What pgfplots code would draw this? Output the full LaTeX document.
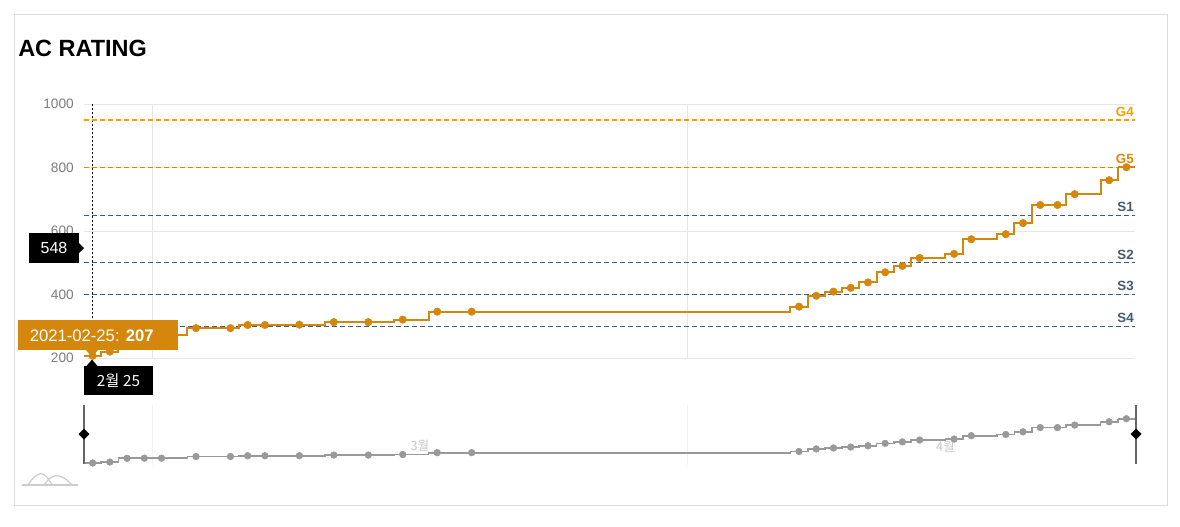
\documentclass[border=0pt]{standalone}
\usepackage{pgfplots}
\pgfplotsset{compat=1.18}
\usepackage{pgfplotstable}
\usepackage{fontspec}
\setmainfont{Liberation Sans}
\newfontfamily\kr{Noto Sans CJK KR}
\definecolor{acor}{RGB}{212,135,12}
\definecolor{gfour}{RGB}{245,160,0}
\definecolor{gfive}{RGB}{225,135,0}
\definecolor{slate}{RGB}{64,90,122}
\definecolor{gridc}{RGB}{230,230,230}
\definecolor{labc}{RGB}{125,125,125}
\definecolor{navc}{RGB}{153,153,153}
\definecolor{navlab}{RGB}{200,200,200}
\definecolor{framec}{RGB}{221,221,221}

% day index from 2021-02-25 00:00 (points at noon), rating
\pgfplotstableread{
d v
0.5 207
1.5 220
2.5 270
3.5 272
4.5 272
6.5 294
8.5 294
9.5 304
10.5 304
12.5 305
14.5 313
16.5 313
18.5 321
20.5 346
22.5 346
41.5 362
42.5 396
43.5 409
44.5 421
45.5 438
46.5 470
47.5 490
48.5 515
50.5 528
51.5 574
53.5 590
54.5 625
55.5 682
56.5 682
57.5 716
59.5 760
60.5 801
}\rating

\begin{document}
\begin{tikzpicture}
\path[use as bounding box, fill=white] (0pt,0pt) rectangle (885pt,394.5pt);

% ---------------- main chart ----------------
\begin{axis}[
  at={(63pt,126pt)}, anchor=south west, scale only axis,
  width=788.25pt, height=190.5pt,
  xmin=0, xmax=61, ymin=200, ymax=1000,
  axis line style={draw=none},
  xtick={4,35}, xticklabels={,},
  ytick={200,400,600,800,1000},
  xmajorgrids, ymajorgrids,
  major grid style={gridc, line width=0.75pt},
  major tick length=0pt,
  tick label style={font=\fontsize{10.25}{12}\selectfont, text=labc},
  yticklabel style={anchor=east, inner sep=0pt, xshift=-7.5pt},
  /pgf/number format/assume math mode=true,
  /pgf/number format/1000 sep={},
]
% month labels
\node[font=\kr\fontsize{9.5}{10}\selectfont, text=labc, yshift=-13.5pt] at (axis cs:19.5,200) {3월};
\node[font=\kr\fontsize{9.5}{10}\selectfont, text=labc, yshift=-13.5pt] at (axis cs:50,200) {4월};

% crosshair
\draw[black, dash pattern=on 1.5pt off 1.5pt, line width=0.75pt] (axis cs:0.5,200) -- (axis cs:0.5,1000);

% tier lines
\addplot[gfour, dash pattern=on 3.5pt off 2.5pt, line width=1pt] coordinates {(0,950) (61,950)};
\addplot[gfive, dash pattern=on 3.5pt off 2.5pt, line width=1.1pt] coordinates {(0,800) (61,800)};
\addplot[slate, dash pattern=on 3.5pt off 2.5pt, line width=0.9pt] coordinates {(0,650) (61,650)};
\addplot[slate, dash pattern=on 3.5pt off 2.5pt, line width=0.9pt] coordinates {(0,500) (61,500)};
\addplot[slate, dash pattern=on 3.5pt off 2.5pt, line width=0.9pt] coordinates {(0,400) (61,400)};
\addplot[slate, dash pattern=on 3.5pt off 2.5pt, line width=0.9pt] coordinates {(0,300) (61,300)};

\node[anchor=south east, inner sep=0pt, yshift=2.5pt, xshift=-0.75pt, font=\bfseries\fontsize{10}{11}\selectfont, text=gfour] at (axis cs:61,950) {G4};
\node[anchor=south east, inner sep=0pt, yshift=2.5pt, xshift=-0.75pt, font=\bfseries\fontsize{10}{11}\selectfont, text=gfive] at (axis cs:61,800) {G5};
\node[anchor=south east, inner sep=0pt, yshift=2.5pt, xshift=-0.75pt, font=\bfseries\fontsize{10}{11}\selectfont, text=slate] at (axis cs:61,650) {S1};
\node[anchor=south east, inner sep=0pt, yshift=2.5pt, xshift=-0.75pt, font=\bfseries\fontsize{10}{11}\selectfont, text=slate] at (axis cs:61,500) {S2};
\node[anchor=south east, inner sep=0pt, yshift=2.5pt, xshift=-0.75pt, font=\bfseries\fontsize{10}{11}\selectfont, text=slate] at (axis cs:61,400) {S3};
\node[anchor=south east, inner sep=0pt, yshift=2.5pt, xshift=-0.75pt, font=\bfseries\fontsize{10}{11}\selectfont, text=slate] at (axis cs:61,300) {S4};

% rating step line (changes at midnight), markers at noon
\addplot[const plot mark left, acor, line width=1.5pt, no marks] table[x expr=\thisrow{d}-0.5, y=v] {\rating};
\addplot[acor, line width=1.5pt, no marks] coordinates {(60,801) (61,801)};
\addplot[only marks, mark=*, mark size=2.8pt, acor, mark options={draw=acor, fill=acor}] table[x=d, y=v] {\rating};
\end{axis}

% ---------------- navigator ----------------
\begin{axis}[
  at={(63pt,45.75pt)}, anchor=south west, scale only axis,
  width=788.25pt, height=45pt,
  xmin=0, xmax=61, ymin=180, ymax=985,
  axis line style={draw=none},
  xtick={4,35}, xticklabels={,}, ytick=\empty,
  xmajorgrids, major grid style={color=black!5, line width=0.75pt},
  major tick length=0pt,
]
\node[font=\kr\fontsize{9.5}{10}\selectfont, text=navlab] at (axis cs:19.5,440) {3월};
\node[font=\kr\fontsize{9.5}{10}\selectfont, text=navlab] at (axis cs:50,420) {4월};
\addplot[const plot mark left, navc, line width=1.3pt, no marks] table[x expr=\thisrow{d}-0.5, y=v] {\rating};
\addplot[navc, line width=1.3pt, no marks] coordinates {(60,801) (61,801)};
\addplot[only marks, mark=*, mark size=2.5pt, navc, mark options={draw=navc, fill=navc}] table[x=d, y=v] {\rating};
\end{axis}

% ---------------- decorations in pixel coordinates ----------------
\begin{scope}[x=0.75pt, y=-0.75pt, shift={(0pt,394.5pt)}]
  \draw[framec, line width=0.75pt] (14.5,14.5) rectangle (1167.5,505.5);
  \node[anchor=base west, inner sep=0pt, font=\bfseries\fontsize{17.6}{20}\selectfont] at (18,57) {AC RATING};

  % navigator handles
  \draw[black!60, line width=1.3pt] (84,405) -- (84,464);
  \draw[black!60, line width=1.3pt] (1136,405) -- (1136,464);
  \fill[black] (84,428.5) -- (89.5,434) -- (84,439.5) -- (78.5,434) -- cycle;
  \fill[black] (1136,428.5) -- (1141.5,434) -- (1136,439.5) -- (1130.5,434) -- cycle;

  % small icon
  \draw[black!20, line width=0.9pt] (22,485) -- (78,485);
  \draw[black!20, line width=0.9pt] (28,485) .. controls (37,471) and (44,469) .. (52,485);
  \draw[black!20, line width=0.9pt] (44,485) .. controls (52,473) and (60,472) .. (72,485);

  % y crosshair label
  \fill[black] (29,233) rectangle (79,263);
  \fill[black] (79,243) -- (84,248) -- (79,253) -- cycle;
  \node[text=white, font=\fontsize{12}{14}\selectfont] at (54,248) {548};

  % x crosshair label
  \fill[black] (84,366) rectangle (153,395);
  \fill[black] (86.5,366) -- (92,359.5) -- (97.5,366) -- cycle;
  \node[text=white, font=\kr\fontsize{11.5}{13}\selectfont] at (118.5,380.5) {2월 25};

  % tooltip
  \fill[acor] (18,320) rectangle (178,350);
  \fill[acor] (86,350) -- (92,357) -- (98,350) -- cycle;
  \node[anchor=west, text=white, inner sep=0pt, font=\fontsize{12.5}{14}\selectfont] at (29.5,335.5) {2021-02-25: \textbf{207}};
\end{scope}
\end{tikzpicture}
\end{document}
